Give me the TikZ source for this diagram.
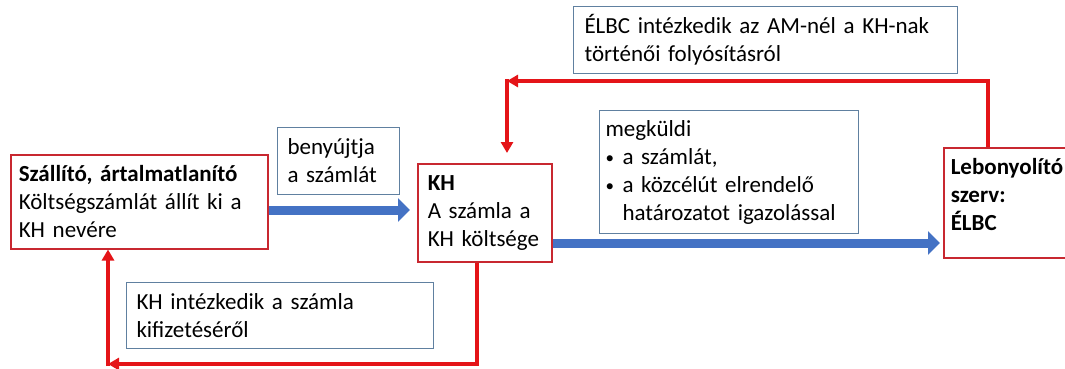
\documentclass[tikz,border=0pt]{standalone}
\usepackage{fontspec}
\setmainfont{Carlito}[WordSpace=0.7]
\usetikzlibrary{arrows.meta}

\definecolor{boxred}{RGB}{200,40,48}
\definecolor{notegray}{RGB}{96,128,160}
\definecolor{arrowblue}{RGB}{68,114,196}
\definecolor{arrowred}{RGB}{228,20,24}

\newcommand{\blt}{\makebox[17pt][l]{\raisebox{1pt}{\fontsize{17}{17}\selectfont\textbullet}}}

\tikzset{
  redbox/.style={draw=boxred, line width=1.5pt, anchor=north west, align=left,
    inner ysep=0pt, font=\fontsize{23}{28}\selectfont\frenchspacing},
  notebox/.style={draw=notegray, line width=1pt, anchor=north west, align=left,
    inner ysep=0pt, font=\fontsize{23}{28}\selectfont\frenchspacing},
  bluearrow/.style={arrowblue, line width=9pt, -{Triangle[length=12pt,width=23pt]}},
  redarrow/.style={arrowred, line width=4pt, -{Triangle[length=11pt,width=12pt]}},
}

\begin{document}
\begin{tikzpicture}[x=1pt,y=-1pt]
    \useasboundingbox (0,0) rectangle (1065,369);
    \clip (0,0) rectangle (1065,369);

    % boxes
    \node[redbox, inner xsep=8pt, text width=241pt, minimum height=94pt] (szallito) at (10,154)
        {\textbf{Szállító, ártalmatlanító}\\Költségszámlát állít ki a\\KH nevére};
    \node[notebox, inner xsep=10pt, text width=102pt, minimum height=67pt] (benyujt) at (277,127)
        {benyújtja\\a számlát};
    \node[redbox, inner xsep=10pt, text width=114pt, minimum height=98pt] (kh) at (417,163)
        {\textbf{KH}\\A számla a\\KH költsége};
    \node[notebox, inner xsep=6pt, text width=247pt, minimum height=123pt] (megkuld) at (599,110)
        {megküldi\\\blt a számlát,\\\blt a közcélút elrendelő\\\hspace*{17pt}határozatot igazolással};
    \node[redbox, inner xsep=7pt, text width=146pt, minimum height=110pt, text depth=72pt] (elbc) at (943,147)
        {\textbf{Lebonyolító}\\\textbf{szerv:}\\\textbf{ÉLBC}};
    \node[notebox, inner xsep=11pt, text width=362pt, minimum height=67pt] (elbcnote) at (573,6)
        {ÉLBC intézkedik az AM-nél a KH-nak\\történői folyósításról};
    \node[notebox, inner xsep=10pt, text width=287pt, minimum height=66pt] (khnote) at (126,282)
        {KH intézkedik a számla\\kifizetéséről};

    % blue arrows
    \coordinate (ya) at (0,210);
    \coordinate (yb) at (0,243);
    \draw[bluearrow] (szallito.east |- ya) -- ([xshift=-7pt]kh.west |- ya);
    \draw[bluearrow] (kh.east |- yb) -- ([xshift=-3pt]elbc.west |- yb);

    % red arrows
    \coordinate (tr) at (988,81);
    \coordinate (tl) at (507,81);
    \coordinate (br) at (477,364);
    \coordinate (bl) at (108,364);
    \draw[redarrow] (elbc.north -| tr) -- (tr) -- (tl);
    \draw[redarrow, shorten >=10pt] ([yshift=2pt]tl) -- (kh.north -| tl);
    \draw[redarrow] (kh.south -| br) -- (br) -- (bl);
    \draw[redarrow] ([yshift=-2pt]bl) -- (szallito.south -| bl);
\end{tikzpicture}
\end{document}
